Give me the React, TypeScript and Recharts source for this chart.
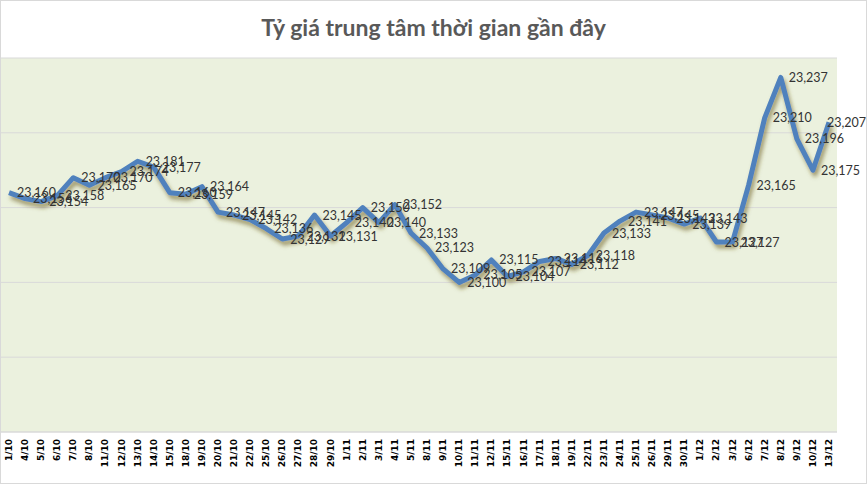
import { LineChart, Line, XAxis, YAxis, CartesianGrid, LabelList } from 'recharts';

const dates = [
  '1/10', '4/10', '5/10', '6/10', '7/10', '8/10', '11/10', '12/10', '13/10', '14/10',
  '15/10', '18/10', '19/10', '20/10', '21/10', '22/10', '25/10', '26/10', '27/10', '28/10',
  '29/10', '1/11', '2/11', '3/11', '4/11', '5/11', '8/11', '9/11', '10/11', '11/11',
  '12/11', '15/11', '16/11', '17/11', '18/11', '19/11', '22/11', '23/11', '24/11', '25/11',
  '26/11', '29/11', '30/11', '1/12', '2/12', '3/12', '6/12', '7/12', '8/12', '9/12',
  '10/12', '13/12',
];

const rates = [
  23160, 23156, 23154, 23158, 23170, 23165, 23170, 23174, 23181, 23177,
  23160, 23159, 23164, 23147, 23145, 23142, 23136, 23129, 23131, 23145,
  23131, 23140, 23150, 23140, 23152, 23133, 23123, 23109, 23100, 23105,
  23115, 23104, 23107, 23114, 23116, 23112, 23118, 23133, 23141, 23147,
  23145, 23143, 23139, 23143, 23127, 23127, 23165, 23210, 23237, 23196,
  23175, 23207,
];

const yTicks = [23000, 23050, 23100, 23150, 23200, 23250];

const TITLE = 'Tỷ giá trung tâm thời gian gần đây';

const data = dates.map((d, i) => ({ date: d, rate: rates[i] }));

const DateTick = ({ x, y, payload }: any) => (
  <text
    transform={`translate(${x},${y - 1}) rotate(-90)`}
    textAnchor="end"
    dominantBaseline="central"
    fontFamily="DejaVu Sans"
    fontWeight="bold"
    fontSize={9}
    fill="#000"
  >
    {payload.value}
  </text>
);

const RateLabel = ({ x, y, value }: any) => (
  <text
    x={Math.min(x + 8, 826)}
    y={y}
    dominantBaseline="central"
    fontFamily="Lato"
    fontSize={12.5}
    fill="#333"
  >
    {Number(value).toLocaleString('en-US')}
  </text>
);

export default function App() {
  return (
    <div
      style={{
        position: 'absolute',
        left: 0,
        top: 0,
        width: 867,
        height: 484,
        boxSizing: 'border-box',
        border: '1px solid #D9D9D9',
        background: '#fff',
      }}
    >
      <div
        style={{
          position: 'absolute',
          left: 0,
          top: 11,
          width: 865,
          textAlign: 'center',
          fontFamily: 'Lato',
          fontWeight: 'bold',
          fontSize: 23,
          lineHeight: '30px',
          color: '#595959',
        }}
      >
        {TITLE}
      </div>
      <LineChart
        width={865}
        height={482}
        data={data}
        margin={{ top: 57, right: 29, bottom: 0, left: 0 }}
      >
        <defs>
          <filter id="lineShadow" x="-10%" y="-10%" width="120%" height="130%">
            <feDropShadow dx={2} dy={4} stdDeviation={2} floodColor="#6b5a1e" floodOpacity={0.6} />
          </filter>
        </defs>
        <CartesianGrid fill="#EBF1DE" stroke="#D9D9D9" vertical={false} />
        <XAxis
          dataKey="date"
          interval={0}
          tickLine={false}
          axisLine={{ stroke: '#D9D9D9' }}
          height={51}
          padding={{ left: 8, right: 8 }}
          tick={<DateTick />}
        />
        <YAxis hide domain={[23000, 23250]} ticks={yTicks} />
        <Line
          type="linear"
          dataKey="rate"
          stroke="#4F81BD"
          strokeWidth={5}
          strokeLinejoin="round"
          dot={false}
          filter="url(#lineShadow)"
          isAnimationActive={false}
        >
          <LabelList dataKey="rate" content={<RateLabel />} />
        </Line>
      </LineChart>
    </div>
  );
}
